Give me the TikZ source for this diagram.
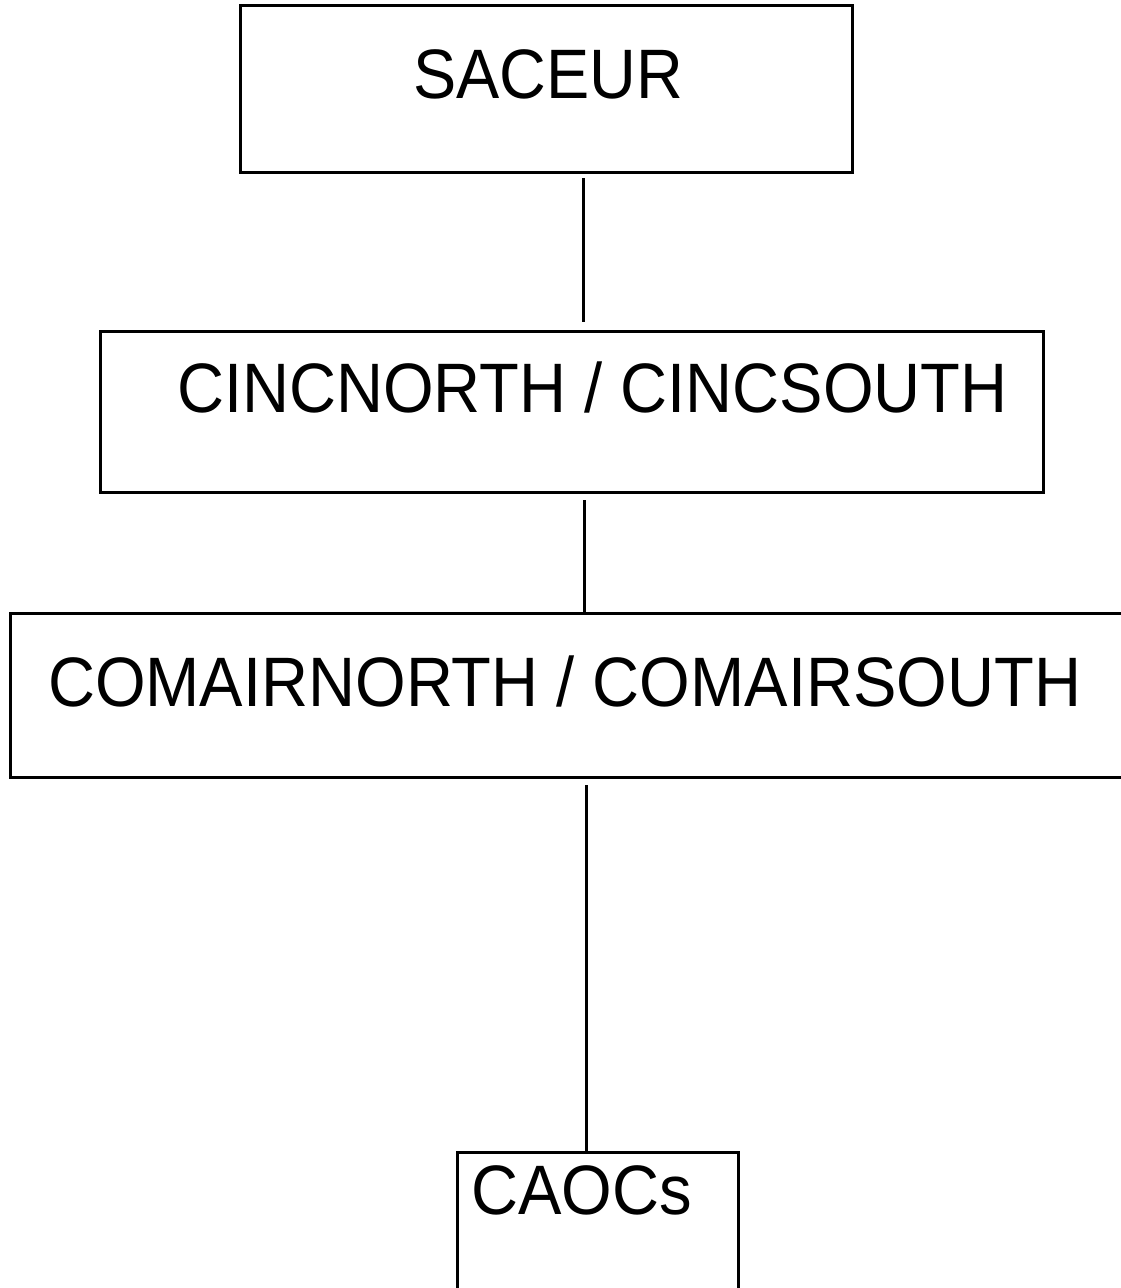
\documentclass[tikz,border=0pt]{standalone}
\usepackage{fontspec}
\setmainfont{Liberation Sans}
\begin{document}
\begin{tikzpicture}[x=1pt,y=-1pt,
  box/.style={draw=black,line width=3pt,rectangle,inner sep=0pt,outer sep=0pt},
  lbl/.style={inner sep=0pt,outer sep=0pt,anchor=base west,font=\fontsize{70}{72}\selectfont},
  conn/.style={draw=black,line width=3pt}]
\useasboundingbox (0,0) rectangle (1121,1288);
\clip (0,0) rectangle (1121,1288);
\fill[white] (0,0) rectangle (1121,1288);
\node[box,minimum width=612pt,minimum height=167pt] (saceur) at (546,88.5) {};
\node[box,minimum width=943pt,minimum height=161pt] (cinc) at (571.5,411.5) {};
\node[box,minimum width=1125pt,minimum height=164pt] (comair) at (572.5,695) {};
\node[box,minimum width=281pt,minimum height=148pt] (caocs) at (597.5,1226) {};
\node[lbl] (tsaceur) at (413,98) {\scalebox{0.925}[1]{SACEUR}};
\node[lbl] (tcinc) at (177,412) {\scalebox{0.93}[1]{CINCNORTH / CINCSOUTH}};
\node[lbl] (tcomair) at (48,706) {\scalebox{0.93}[1]{COMAIRNORTH / COMAIRSOUTH}};
\node[lbl] (tcaocs) at (471,1214) {\scalebox{0.93}[1]{CAOCs}};
\draw[conn,shorten <=6pt,shorten >=9pt] (saceur.south -| 583,0) -- (cinc.north -| 583,0);
\draw[conn,shorten <=8pt] (cinc.south -| 584,0) -- (comair.north -| 584,0);
\draw[conn,shorten <=8pt] (comair.south -| 586,0) -- (caocs.north -| 586,0);
\end{tikzpicture}
\end{document}
